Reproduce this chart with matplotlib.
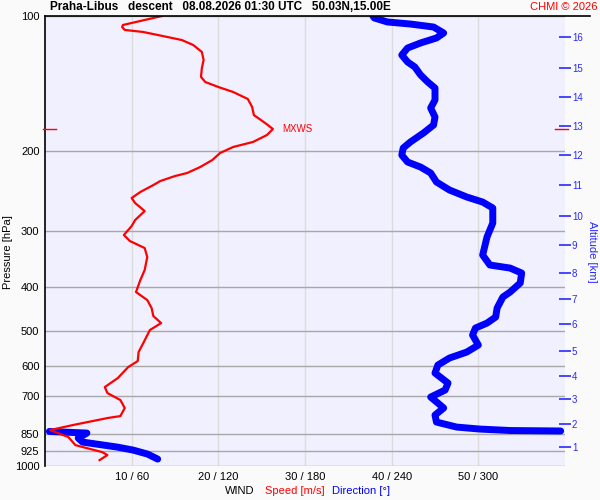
import numpy as np
import matplotlib
matplotlib.use("Agg")
import matplotlib.pyplot as plt
from matplotlib.lines import Line2D
from matplotlib.ticker import NullLocator
import matplotlib.transforms as mtransforms

plt.rcParams['font.family'] = ['Liberation Sans', 'DejaVu Sans']

# wind speed profile [hPa] / [m/s]
spd_p = [100, 104.7, 105.8, 107.4, 108.5, 110.8, 113.1, 116.0, 120.2, 125.3,
         130.5, 136.6, 140.2, 143.8, 147.5, 152.9, 159.3, 166.0, 172.9, 178.3,
         183.9, 190.5, 195.5, 201.6, 209.0, 216.6, 223.3, 226.8, 232.7, 237.5,
         246.1, 253.8, 260.4, 271.3, 284.1, 292.9, 306.7, 316.3, 327.8, 343.3,
         366.9, 386.2, 410.6, 427.8, 445.7, 464.3, 481.3, 498.8, 530.4, 558.2,
         584.5, 602.8, 637.7, 667.7, 688.5, 713.6, 743.4, 774.5, 782.5, 811.1,
         832.1, 845.0, 862.5, 898.5, 912.4, 931.2, 945.6, 970.2]
spd_ms = [13.5, 9.0, 8.9, 9.2, 11.3, 13.6, 15.8, 17.1, 18.1, 18.3,
          18.1, 18.0, 18.5, 20.0, 21.7, 23.4, 23.9, 24.1, 25.4, 26.3,
          25.6, 24.0, 21.7, 20.2, 19.3, 17.9, 16.4, 15.0, 13.3, 12.5,
          11.0, 10.0, 10.4, 11.5, 10.4, 10.0, 9.1, 9.8, 11.5, 11.8,
          11.5, 11.0, 10.5, 11.8, 12.3, 12.5, 13.4, 12.1, 11.4, 10.8,
          10.7, 9.6, 8.4, 6.9, 7.2, 8.7, 9.2, 8.7, 7.2, 3.2,
          0.6, 1.5, 2.7, 3.5, 4.8, 6.6, 7.2, 6.3]

# wind direction profile [hPa] / [deg], nan = wrap through north
dir_p = [100, 101.0, 103.1, 104.2, 105.8, 109.1, 111.9, 114.8, 117.8, 122.1,
         126.5, 129.8, 135.2, 140.2, 144.6, 153.7, 160.1, 167.7, 174.7, 182.0,
         190.5, 196.5, 203.7, 211.1, 216.6, 223.3, 233.8, 243.6, 252.5, 259.1,
         267.1, 288.5, 309.9, 339.8, 357.6, 363.2, 372.6, 392.1, 410.6, 421.2,
         445.7, 466.7, 481.3, 493.7, 511.7, 538.6, 558.2, 575.6, 596.6, 621.5,
         654.2, 678.0, 702.8, 724.7, 743.4, 770.6, 798.7, 819.4, 827.8, 834.0,
         836.0, 837.0, 838.0, 845.0, 866.9, 884.8, 907.7, 921.8, 940.8, 965.2]
dir_deg = [227, 228, 237, 253, 269, 276, 271, 260, 251, 247,
           251, 256, 260, 265, 270, 270, 267, 270, 269, 262,
           253, 248, 247, 251, 260, 267, 271, 280, 292, 303,
           310, 310, 306, 303, 308, 322, 330, 329, 322, 317,
           313, 312, 306, 298, 296, 300, 292, 280, 272, 270,
           279, 277, 267, 272, 276, 270, 271, 285, 301, 322,
           357, np.nan, 3, 29, 23, 26, 50, 61, 71, 78]

press_ticks = [100, 200, 300, 400, 500, 600, 700, 850, 925, 1000]
spd_ticks = [10, 20, 30, 40, 50]
dir_ticks = [60, 120, 180, 240, 300]
alt_km = [1, 2, 3, 4, 5, 6, 7, 8, 9, 10, 11, 12, 13, 14, 15, 16]
alt_p = [907.7, 806.9, 710, 631, 555.3, 483.7, 424.5, 372.6, 322.8, 278.3,
         237.5, 203.7, 175.6, 151.4, 130.5, 111.3]

W, H = 600, 500
RED = '#ff0000'
BLUE = '#0000ff'
LBLUE = '#2a2aff'

fig = plt.figure(figsize=(6, 5), dpi=100, facecolor='#fafafa')
ax_dir = fig.add_axes([45 / W, 1 - 466 / H, 520 / W, 450 / H])
ax_dir.set_facecolor('#f0f0fe')

ax_dir.set_yscale('log')
ax_dir.set_ylim(1000, 100)
ax_dir.set_xlim(0, 360)
ax_dir.set_yticks(press_ticks)
ax_dir.set_yticklabels([str(p) for p in press_ticks])
ax_dir.yaxis.set_minor_locator(NullLocator())
ax_dir.set_xticks(dir_ticks)
ax_dir.set_xticklabels(['%d / %d' % (s, d) for s, d in zip(spd_ticks, dir_ticks)])
ax_dir.tick_params(axis='both', length=0, labelsize=8, pad=4)
ax_dir.grid(axis='y', color='#a8a8a8', lw=1)
ax_dir.grid(axis='x', color='#dcdcdc', lw=1)
ax_dir.set_axisbelow(True)
for s in ['top', 'right', 'bottom']:
    ax_dir.spines[s].set_visible(False)
ax_dir.spines['left'].set_color('black')
ax_dir.spines['left'].set_linewidth(1.2)
fig.text(8 / W, 1 - 252 / H, 'Pressure [hPa]', fontsize=8, rotation=90,
         ha='center', va='center')

ax_dir.plot(dir_deg, dir_p, color=BLUE, lw=5, solid_capstyle='round',
            solid_joinstyle='round', zorder=3)

# speed axis on top of the direction one
ax = ax_dir.twiny()
ax.set_xlim(0, 60)
ax.xaxis.set_visible(False)
for s in ax.spines.values():
    s.set_visible(False)
ax.plot(spd_ms, spd_p, color=RED, lw=1.6, zorder=4)

# max wind marker
imax = int(np.argmax(spd_ms))
pmax = spd_p[imax]
tr = mtransforms.blended_transform_factory(ax.transAxes, ax.transData)
ax.plot([-0.004, 0.021], [pmax, pmax], color=RED, lw=1, transform=tr, clip_on=False)
ax.plot([0.981, 1.006], [pmax, pmax], color=RED, lw=1, transform=tr, clip_on=False)
ax.text(spd_ms[imax] + 1.1, pmax, 'MXWS', color=RED, fontsize=7,
        ha='left', va='center')

# altitude axis
ax_alt = ax_dir.twinx()
ax_alt.set_yscale('log')
ax_alt.set_ylim(1000, 100)
ax_alt.set_yticks(alt_p)
ax_alt.set_yticklabels([str(a) for a in alt_km])
ax_alt.yaxis.set_minor_locator(NullLocator())
ax_alt.tick_params(axis='y', direction='inout', length=8, width=1.2,
                   color=LBLUE, labelcolor=LBLUE, labelsize=7, pad=1)
for s in ax_alt.spines.values():
    s.set_visible(False)
fig.text(592 / W, 1 - 252 / H, 'Altitude [km]', color=LBLUE, fontsize=8,
         rotation=-90, ha='center', va='center')

# header
fig.add_artist(Line2D([45 / W, 590 / W], [1 - 15.5 / H, 1 - 15.5 / H],
                      color='black', lw=1.2))
fig.text(50 / W, 1 - 7 / H,
         'Praha-Libus   descent   08.08.2026 01:30 UTC   50.03N,15.00E',
         fontsize=8.5, fontweight='bold', ha='left', va='center')
fig.text(597 / W, 1 - 7 / H, 'CHMI \u00a9 2026', color=RED, fontsize=8,
         ha='right', va='center')

# footer
fig.text(225 / W, 1 - 491 / H, 'WIND', fontsize=8, ha='left', va='center')
fig.text(265 / W, 1 - 491 / H, 'Speed [m/s]', color=RED, fontsize=8,
         ha='left', va='center')
fig.text(332 / W, 1 - 491 / H, 'Direction [\u00b0]', color=BLUE, fontsize=8,
         ha='left', va='center')

fig.savefig('out.png', dpi=100, facecolor=fig.get_facecolor())
